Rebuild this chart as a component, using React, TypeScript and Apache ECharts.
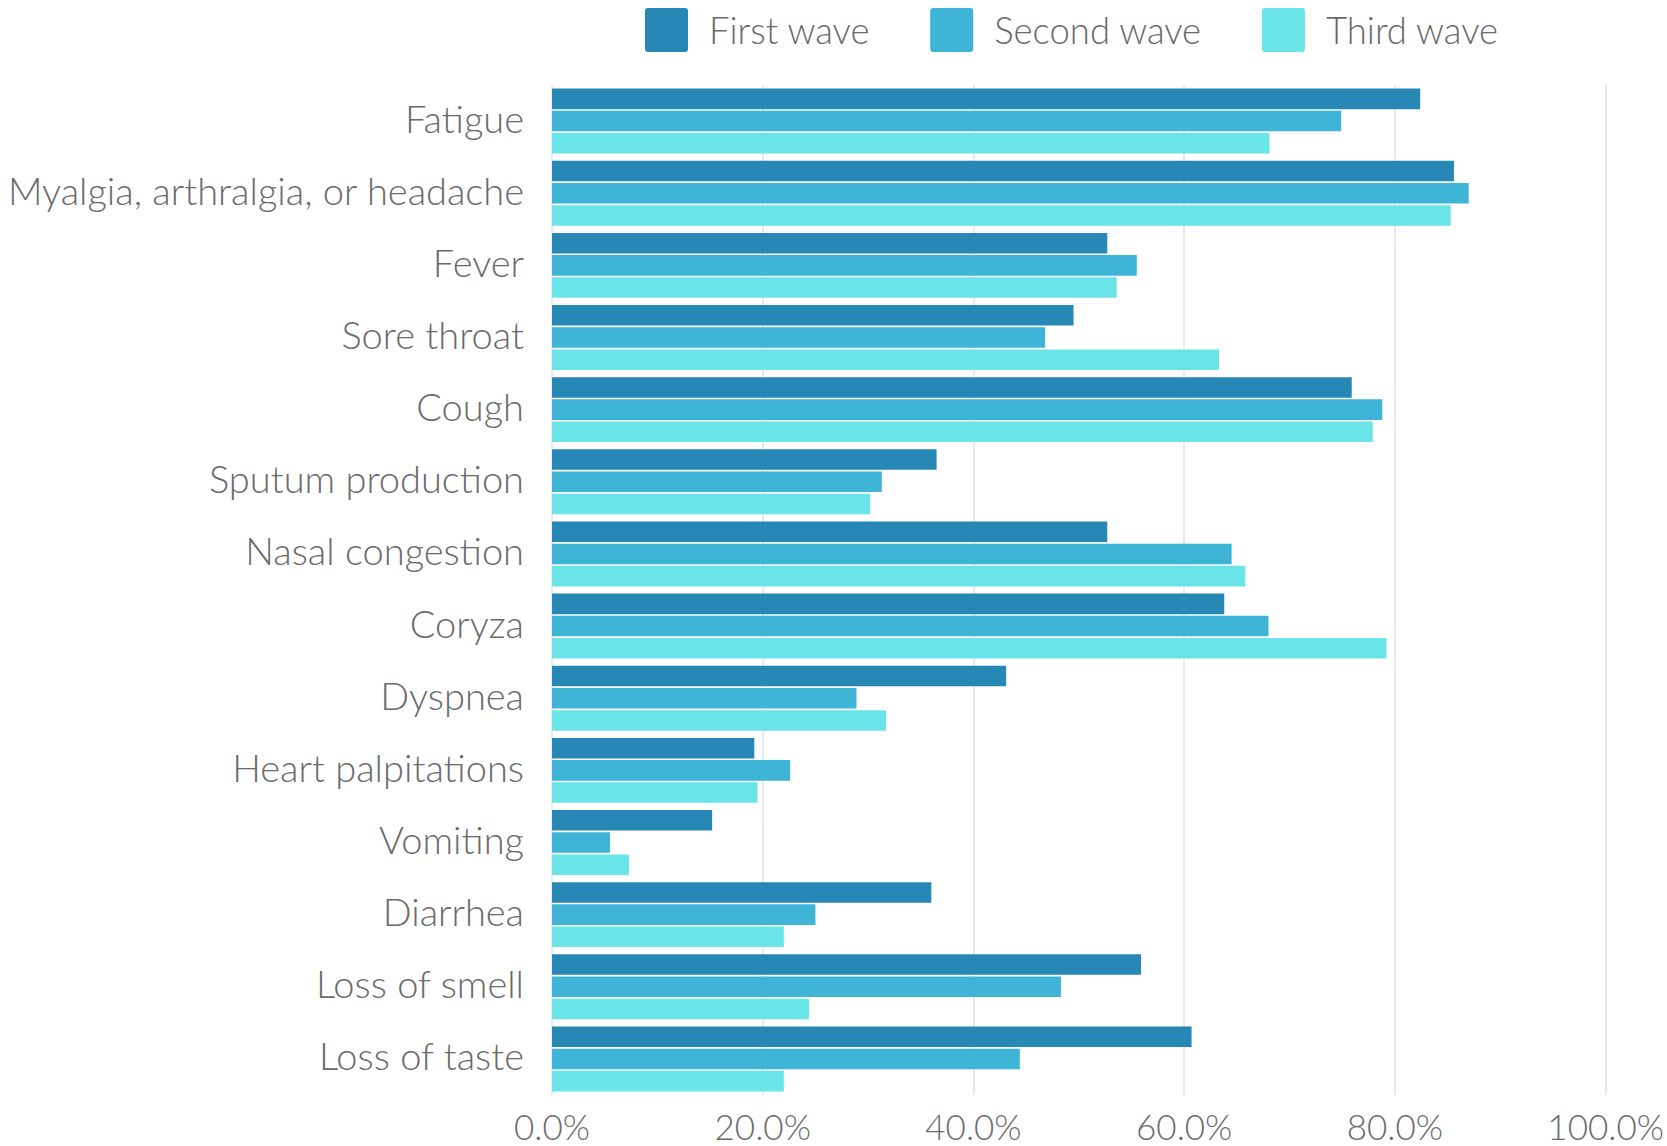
import React, { useEffect, useRef } from 'react';
import * as echarts from 'echarts';

const symptoms = [
  'Fatigue',
  'Myalgia, arthralgia, or headache',
  'Fever',
  'Sore throat',
  'Cough',
  'Sputum production',
  'Nasal congestion',
  'Coryza',
  'Dyspnea',
  'Heart palpitations',
  'Vomiting',
  'Diarrhea',
  'Loss of smell',
  'Loss of taste',
];

const waveNames = ['First wave', 'Second wave', 'Third wave'];

const firstWave = [82.4, 85.6, 52.7, 49.5, 75.9, 36.5, 52.7, 63.8, 43.1, 19.2, 15.2, 36.0, 55.9, 60.7];
const secondWave = [74.9, 87.0, 55.5, 46.8, 78.8, 31.3, 64.5, 68.0, 28.9, 22.6, 5.5, 25.0, 48.3, 44.4];
const thirdWave = [68.1, 85.3, 53.6, 63.3, 77.9, 30.2, 65.8, 79.2, 31.7, 19.5, 7.3, 22.0, 24.4, 22.0];

const waveColors = ['#2787b5', '#3eb5d7', '#69e4e8'];

const FONT = 'Lato, "Open Sans", sans-serif';
const TEXT_COLOR = '#6a6a6a';
const legendIcon = 'path://M3 0H40Q43 0 43 3V41Q43 44 40 44H3Q0 44 0 41V3Q0 0 3 0Z';

export default function App() {
  const ref = useRef<HTMLDivElement>(null);

  useEffect(() => {
    document.body.style.margin = '0';
    if (!ref.current) return;
    const chart = echarts.init(ref.current, undefined, { renderer: 'svg' });
    const values = [firstWave, secondWave, thirdWave];

    chart.setOption({
      animation: false,
      backgroundColor: '#ffffff',
      textStyle: { fontFamily: FONT },
      legend: {
        left: 645,
        top: 8,
        padding: 0,
        itemWidth: 43,
        itemHeight: 44,
        itemGap: 60,
        icon: legendIcon,
        data: waveNames,
        textStyle: {
          fontFamily: FONT,
          fontSize: 36.5,
          fontWeight: 300,
          color: TEXT_COLOR,
          padding: [0, 0, 0, 16],
        },
      },
      grid: { left: 552, right: 60, top: 85, bottom: 51, containLabel: false },
      xAxis: {
        type: 'value',
        min: 0,
        max: 100,
        interval: 20,
        axisLine: { show: false },
        axisTick: { show: false },
        axisLabel: {
          color: TEXT_COLOR,
          fontSize: 35,
          fontWeight: 300,
          fontFamily: FONT,
          margin: 13,
          formatter: (v: number) => `${v.toFixed(1)}%`,
        },
        splitLine: { lineStyle: { color: '#e2e2e2', width: 1.5 } },
      },
      yAxis: {
        type: 'category',
        data: symptoms,
        inverse: true,
        axisLine: { show: false },
        axisTick: { show: false },
        axisLabel: {
          margin: 28,
          formatter: (v: string) => `{n|${v}}`,
          rich: {
            n: {
              color: TEXT_COLOR,
              fontSize: 38,
              fontWeight: 300,
              fontFamily: FONT,
              padding: [0, 0, 7, 0],
            },
          },
        },
      },
      series: waveNames.map((name, i) => ({
        name,
        type: 'bar',
        data: values[i],
        barGap: '8%',
        barCategoryGap: '10%',
        itemStyle: { color: waveColors[i] },
      })),
    });

    return () => {
      chart.dispose();
    };
  }, []);

  return <div ref={ref} style={{ width: 1667, height: 1146 }} />;
}
